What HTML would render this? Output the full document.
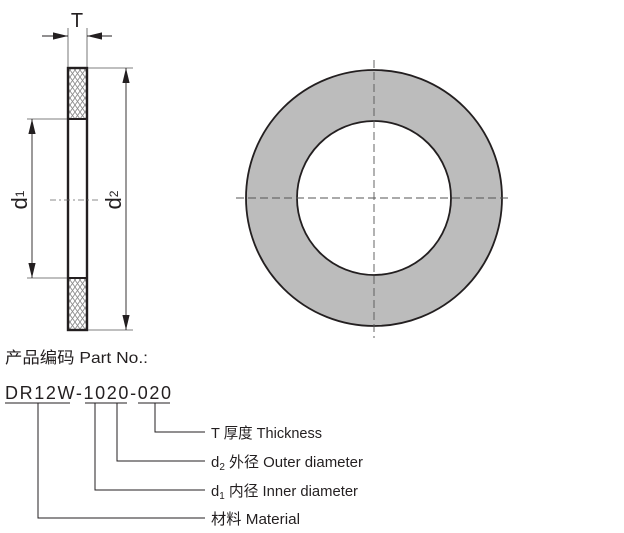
<!DOCTYPE html>
<html><head><meta charset="utf-8"><style>
body{margin:0;width:624px;height:533px;background:#fff;overflow:hidden}
svg{display:block}
text{font-family:"Liberation Sans","Noto Sans CJK SC",sans-serif;fill:#231f20}
</style></head><body>
<svg width="624" height="533" viewBox="0 0 624 533">
<defs>
<pattern id="h" width="5" height="7" patternUnits="userSpaceOnUse">
<rect width="5" height="7" fill="#fff"/>
<path d="M0 0L5 7M5 0L0 7" stroke="#888" stroke-width="0.8"/>
</pattern>
<marker id="b" viewBox="0 0 10 10" refX="10" refY="5" markerWidth="15" markerHeight="9" orient="auto-start-reverse" markerUnits="userSpaceOnUse" preserveAspectRatio="none"><path d="M0 1L10 5L0 9z" fill="#231f20"/></marker>
</defs>
<rect x="68" y="68" width="19" height="51" fill="url(#h)"/>
<rect x="68" y="278" width="19" height="52" fill="url(#h)"/>
<rect x="68" y="68" width="19" height="262" fill="none" stroke="#231f20" stroke-width="2.4"/>
<line x1="68" y1="119" x2="87" y2="119" stroke="#231f20" stroke-width="2"/>
<line x1="68" y1="278" x2="87" y2="278" stroke="#231f20" stroke-width="2"/>
<g stroke="#555" stroke-width="0.8">
<line x1="68" y1="28" x2="68" y2="67"/><line x1="87" y1="28" x2="87" y2="67"/>
<line x1="27" y1="119" x2="67" y2="119"/><line x1="27" y1="278" x2="67" y2="278"/>
<line x1="88" y1="68" x2="133" y2="68"/><line x1="88" y1="330" x2="133" y2="330"/>
</g>
<g stroke="#231f20" stroke-width="0.9">
<line x1="42" y1="36" x2="68" y2="36" marker-end="url(#b)"/>
<line x1="112" y1="36" x2="87" y2="36" marker-end="url(#b)"/>
<line x1="32" y1="119" x2="32" y2="278" marker-start="url(#b)" marker-end="url(#b)"/>
<line x1="126" y1="68" x2="126" y2="330" marker-start="url(#b)" marker-end="url(#b)"/>
</g>
<line x1="50" y1="200" x2="100" y2="200" stroke="#666" stroke-width="0.8" stroke-dasharray="6,3,2,3"/>
<text x="77" y="27" font-size="20" text-anchor="middle">T</text>
<text transform="translate(27,200) rotate(-90)" font-size="22" text-anchor="middle">d<tspan font-size="12" dy="-3">1</tspan></text>
<text transform="translate(121,200) rotate(-90)" font-size="22" text-anchor="middle">d<tspan font-size="12" dy="-3">2</tspan></text>
<circle cx="374" cy="198" r="128" fill="#bcbcbc" stroke="#231f20" stroke-width="1.8"/>
<circle cx="374" cy="198" r="77" fill="#fff" stroke="#231f20" stroke-width="1.8"/>
<g stroke="#555" stroke-width="0.9" stroke-dasharray="8,4">
<line x1="236" y1="198" x2="512" y2="198"/>
<line x1="374" y1="60" x2="374" y2="338"/>
</g>
<text x="5" y="363" font-size="16" textLength="143" lengthAdjust="spacingAndGlyphs">产品编码 Part No.:</text>
<text x="5" y="399" font-size="18" textLength="166" lengthAdjust="spacing">DR12W-1020-020</text>
<g stroke="#231f20" stroke-width="1">
<line x1="5" y1="403" x2="70" y2="403"/>
<line x1="85" y1="403" x2="127" y2="403"/>
<line x1="138" y1="403" x2="170" y2="403"/>
<polyline fill="none" points="155,403 155,432 205,432"/>
<polyline fill="none" points="117,403 117,461 205,461"/>
<polyline fill="none" points="95,403 95,490 205,490"/>
<polyline fill="none" points="38,403 38,518 205,518"/>
</g>
<g font-size="15">
<text x="211" y="438" textLength="111" lengthAdjust="spacingAndGlyphs">T 厚度 Thickness</text>
<text x="211" y="467" textLength="152" lengthAdjust="spacingAndGlyphs">d<tspan font-size="10" dy="3">2</tspan><tspan dy="-3"> 外径 Outer diameter</tspan></text>
<text x="211" y="496" textLength="147" lengthAdjust="spacingAndGlyphs">d<tspan font-size="10" dy="3">1</tspan><tspan dy="-3"> 内径 Inner diameter</tspan></text>
<text x="211" y="524" textLength="89" lengthAdjust="spacingAndGlyphs">材料 Material</text>
</g>
</svg>
</body></html>
